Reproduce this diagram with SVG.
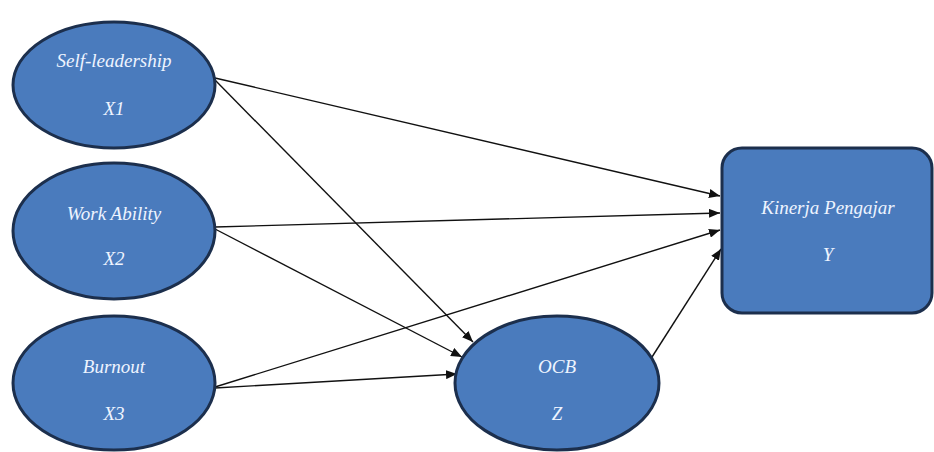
<svg xmlns="http://www.w3.org/2000/svg" width="934" height="452" viewBox="0 0 934 452">
<style>
.node{fill:#4a7bbd;stroke:#1c2f4d;stroke-width:3}
.lbl{font-family:"Liberation Serif","DejaVu Serif",serif;font-style:italic;font-size:19px;fill:#eef4ff;text-anchor:middle}
.edge{stroke:#111;stroke-width:1.4;fill:none;marker-end:url(#ah)}
</style>
<defs>
<marker id="ah" viewBox="0 0 11 9" refX="11" refY="4.5" markerWidth="11" markerHeight="9" markerUnits="userSpaceOnUse" orient="auto">
<path d="M0,0 L11,4.5 L0,9 Z" fill="#111"/>
</marker>
</defs>
<rect width="934" height="452" fill="#fff"/>
<g id="connectors">
<line class="edge" x1="215" y1="78" x2="720" y2="196"/>
<line class="edge" x1="215" y1="80" x2="473" y2="342"/>
<line class="edge" x1="215" y1="227" x2="720" y2="213"/>
<line class="edge" x1="215" y1="229" x2="462" y2="357"/>
<line class="edge" x1="215" y1="387" x2="720" y2="230"/>
<line class="edge" x1="215" y1="388" x2="457" y2="374"/>
<line class="edge" x1="652" y1="357" x2="721" y2="249"/>
</g>
<g id="X1">
<ellipse class="node" cx="114" cy="85" rx="101" ry="63"/>
<text class="lbl" x="114" y="67">Self-leadership</text>
<text class="lbl" x="114" y="115">X1</text>
</g>
<g id="X2">
<ellipse class="node" cx="114" cy="231" rx="101" ry="68"/>
<text class="lbl" x="114" y="220">Work Ability</text>
<text class="lbl" x="114" y="265">X2</text>
</g>
<g id="X3">
<ellipse class="node" cx="114" cy="383" rx="101" ry="67"/>
<text class="lbl" x="114" y="373">Burnout</text>
<text class="lbl" x="114" y="420">X3</text>
</g>
<g id="Z">
<ellipse class="node" cx="557" cy="383" rx="102" ry="67"/>
<text class="lbl" x="557" y="373">OCB</text>
<text class="lbl" x="557" y="420">Z</text>
</g>
<g id="Y">
<rect class="node" x="722" y="148" width="210" height="165" rx="20" ry="20"/>
<text class="lbl" x="828" y="214">Kinerja Pengajar</text>
<text class="lbl" x="828" y="261">Y</text>
</g>
</svg>
